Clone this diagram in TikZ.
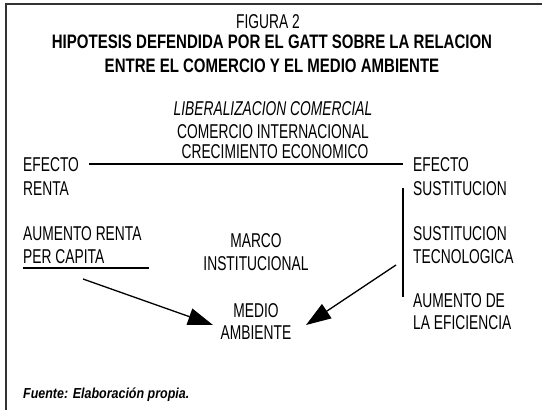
\documentclass[tikz,border=0pt]{standalone}
\usepackage{fontspec}
\setmainfont{Liberation Sans}[FakeStretch=0.69]
\newfontfamily\ttlfont{Liberation Sans}[FakeStretch=0.77]
\newfontfamily\srcfont{Liberation Sans}[FakeStretch=0.86]
\usetikzlibrary{arrows.meta}
\begin{document}
\begin{tikzpicture}[x=1pt,y=-1pt,
 txt/.style={inner sep=0pt, font=\fontsize{20}{24}\selectfont},
 lt/.style={txt, anchor=base west},
 ct/.style={txt, anchor=base},
 ttl/.style={inner sep=0pt, anchor=base, font=\ttlfont\fontsize{19.5}{24}\selectfont\bfseries},
 conn/.style={line width=1.3pt, black},
 arr/.style={conn, -{Triangle[length=25pt,width=17pt]}},
 frame/.style={line width=2pt, black!80}]
\useasboundingbox (0,0) rectangle (542,410);
\draw[frame] (6,410) -- (6,4) -- (542,4);
% titles
\node[ct] (fig) at (268,28) {FIGURA 2};
\node[ttl] (t1) at (272,48) {HIPOTESIS DEFENDIDA POR EL GATT SOBRE LA RELACION};
\node[ttl] (t2) at (272,72) {ENTRE EL COMERCIO Y EL MEDIO AMBIENTE};
% top centre
\node[ct, font=\fontsize{20}{24}\selectfont\itshape] (lib) at (273,115) {LIBERALIZACION COMERCIAL};
\node[ct] (com) at (273,138) {COMERCIO INTERNACIONAL};
\node[ct] (cre) at (275,158) {CRECIMIENTO ECONOMICO};
% left column
\node[lt] (efl1) at (23,171) {EFECTO};
\node[lt] (efl2) at (23,195) {RENTA};
\node[lt] (aum1) at (23,240) {AUMENTO RENTA};
\node[lt] (aum2) at (23,263) {PER CAPITA};
% right column
\node[lt] (efr1) at (413,171) {EFECTO};
\node[lt] (efr2) at (413,195) {SUSTITUCION};
\node[lt] (sus1) at (413,240) {SUSTITUCION};
\node[lt] (sus2) at (413,263) {TECNOLOGICA};
\node[lt] (ef1) at (413,307) {AUMENTO DE};
\node[lt] (ef2) at (413,329) {LA EFICIENCIA};
% centre
\node[ct] (mar1) at (256,247) {MARCO};
\node[ct] (mar2) at (256,270) {INSTITUCIONAL};
\node[ct] (med1) at (256,317) {MEDIO};
\node[ct] (med2) at (256,339) {AMBIENTE};
% connectors
\coordinate (hl) at (89,164);
\coordinate (hr) at (403,164);
\draw[conn] (hl) -- (hr);
\coordinate (vt) at (403,188);
\coordinate (vb) at (403,297);
\draw[conn] (vt) -- (vb);
\coordinate (ul) at (23,268);
\coordinate (ur) at (149,268);
\draw[conn] (ul) -- (ur);
\coordinate (al) at (83,279);
\coordinate (tl) at (213,325);
\draw[arr] (al) -- (tl);
\coordinate (ar) at (396,265);
\coordinate (tr) at (306,325);
\draw[arr] (ar) -- (tr);
% source
\node[lt, font=\srcfont\fontsize{14.5}{17}\selectfont\bfseries\itshape] (src) at (23,398) {Fuente: Elaboración propia.};
\end{tikzpicture}
\end{document}
